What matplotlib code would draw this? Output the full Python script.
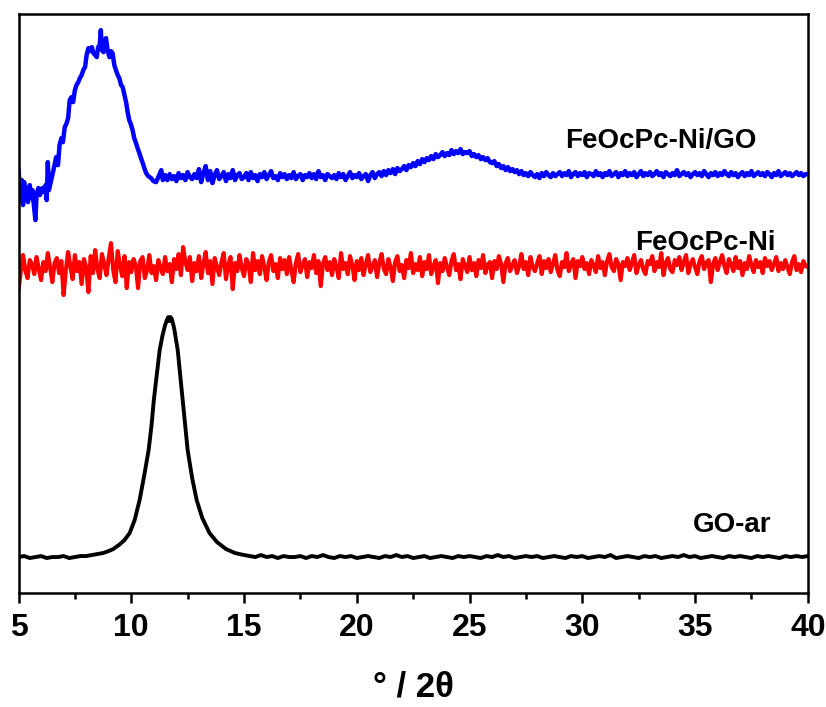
#!/usr/bin/env python

# XRD patterns of GO-ar, FeOcPc-Ni and FeOcPc-Ni/GO, stacked with offsets
# intensities are in arbitrary units (offset already included)

import matplotlib
matplotlib.use('Agg')
import matplotlib.pyplot as plt
import matplotlib.ticker as ticker
import numpy as np

plt.rcParams['font.family'] = ['Liberation Sans', 'DejaVu Sans']
plt.rcParams['font.weight'] = 'bold'

# GO-ar (black)
go_left_x = np.arange(5.0, 8.01, 0.25)
go_left_y = [43, 44, 42, 43, 44, 42, 43, 43, 44, 42, 43, 44, 44]
go_peak_x = [8.25, 8.5, 8.75, 9.0, 9.2, 9.45, 9.7, 9.93, 10.15, 10.37, 10.57, 10.77,
             10.9, 11.0, 11.13, 11.26, 11.38, 11.5, 11.58, 11.64, 11.69, 11.74, 11.8,
             11.9, 12.06, 12.17, 12.28, 12.39, 12.5, 12.7, 12.9, 13.15, 13.47, 13.8,
             14.2, 14.6, 15.0]
go_peak_y = [45, 46, 47, 49, 51, 55, 60, 67, 80, 100, 124, 150,
             175, 200, 225, 250, 264, 275, 280, 283, 279, 283, 281,
             272, 250, 225, 200, 175, 150, 122, 100, 82, 67, 58,
             51, 47, 45]
go_right_x = np.arange(15.25, 40.01, 0.25)
go_right_y = [44, 43, 45, 43, 44, 42, 44, 43, 43, 44,
              42, 44, 43, 45, 43, 42, 44, 43, 44, 42,
              43, 44, 43, 42, 44, 43, 45, 43, 44, 42,
              43, 44, 42, 43, 44, 43, 42, 44, 43, 44,
              43, 42, 44, 43, 45, 43, 44, 42, 43, 44,
              43, 44, 42, 43, 44, 43, 42, 44, 43, 44,
              42, 43, 44, 43, 45, 42, 43, 44, 43, 42,
              44, 43, 44, 42, 43, 44, 43, 45, 43, 44,
              42, 43, 44, 43, 42, 44, 43, 44, 43, 42,
              44, 43, 44, 43, 42, 44, 43, 44, 43, 44]

# FeOcPc-Ni (red)
ni_x = np.arange(5.0, 40.01, 0.1)
ni_y = [310, 328, 345, 330, 322, 340, 336, 326, 343, 331,
        320, 338, 329, 347, 333, 318, 337, 342, 327, 339,
        305, 330, 348, 334, 321, 345, 329, 338, 316, 341,
        333, 308, 344, 327, 350, 331, 322, 346, 336, 325,
        342, 357, 330, 318, 349, 335, 324, 344, 312, 338,
        328, 341, 335, 312, 339, 343, 322, 330, 345, 327,
        334, 320, 340, 332, 326, 343, 329, 336, 318, 341,
        331, 346, 325, 353, 338, 330, 343, 319, 337, 329,
        344, 322, 336, 348, 327, 339, 316, 342, 333, 325,
        338, 347, 321, 335, 343, 311, 337, 329, 345, 332,
        324, 341, 336, 318, 347, 330, 339, 326, 344, 333,
        320, 338, 345, 329, 336, 322, 342, 331, 340, 326,
        343, 330, 318, 337, 346, 328, 335, 341, 323, 338,
        332, 345, 327, 339, 314, 336, 343, 330, 338, 325,
        341, 333, 322, 347, 331, 337, 326, 344, 335, 320,
        339, 330, 342, 325, 336, 345, 328, 334, 340, 323,
        337, 346, 331, 326, 341, 333, 319, 338, 344, 329,
        335, 322, 340, 332, 347, 327, 336, 330, 343, 324,
        338, 331, 345, 326, 334, 340, 317, 337, 329, 342,
        333, 325, 339, 346, 330, 336, 321, 341, 334, 328,
        343, 330, 337, 324, 340, 332, 345, 327, 335, 338,
        322, 339, 331, 344, 336, 318, 337, 342, 329, 335,
        340, 327, 334, 346, 331, 338, 325, 343, 333, 329,
        337, 344, 326, 339, 332, 341, 328, 336, 345, 330,
        324, 338, 333, 347, 329, 336, 341, 322, 339, 334,
        343, 331, 337, 326, 340, 335, 328, 344, 332, 338,
        325, 339, 346, 333, 329, 341, 336, 320, 338, 334,
        342, 330, 337, 345, 327, 335, 340, 331, 326, 339,
        336, 344, 329, 338, 333, 347, 325, 337, 342, 331,
        328, 340, 335, 343, 330, 338, 345, 327, 336, 341,
        333, 326, 339, 344, 331, 337, 340, 318, 336, 342,
        330, 338, 345, 334, 327, 341, 336, 329, 343, 332,
        339, 325, 337, 331, 344, 335, 328, 340, 333, 338,
        327, 342, 334, 339, 330, 336, 343, 329, 337, 331,
        340, 333, 326, 338, 344, 330, 336, 328, 339, 334,
        333]

# FeOcPc-Ni/GO (blue)
gc_peak_x = [5.0, 5.05, 5.1, 5.15, 5.2, 5.25, 5.3, 5.36, 5.42, 5.5, 5.56, 5.62, 5.68,
             5.75, 5.8, 5.88, 5.95, 6.05, 6.12, 6.2, 6.25, 6.3, 6.35, 6.45, 6.55,
             6.67, 6.75, 6.82, 6.9, 6.97, 7.05, 7.12, 7.2, 7.27, 7.35, 7.42, 7.5,
             7.57, 7.65, 7.72, 7.8, 7.87, 7.95, 8.02, 8.1, 8.17, 8.25, 8.32, 8.4,
             8.47, 8.53, 8.6, 8.65, 8.7, 8.77, 8.83, 8.88, 8.95, 9.03, 9.1, 9.17,
             9.25, 9.32, 9.4, 9.47, 9.55, 9.62, 9.7, 9.77, 9.84, 9.91, 9.98, 10.06,
             10.13, 10.21, 10.28, 10.36, 10.43, 10.51, 10.58, 10.66, 10.75, 10.88,
             10.98, 11.1, 11.2, 11.33, 11.4]
gc_peak_y = [430, 415, 400, 420, 395, 418, 405, 412, 398, 415, 402, 410, 395,
             380, 405, 412, 405, 412, 408, 415, 400, 438, 410, 420, 430,
             443, 435, 455, 462, 458, 473, 476, 482, 500, 503, 498, 510,
             515, 518, 522, 525, 530, 533, 545, 552, 549, 553, 547, 545,
             543, 553, 555, 570, 550, 548, 560, 562, 550, 543, 549, 547,
             535, 530, 525, 522, 515, 513, 505, 498, 488, 480, 476, 470,
             462, 457, 452, 447, 442, 437, 432, 427, 424, 422,
             419, 418, 423, 430, 420]
gc_rest_x = np.arange(11.5, 40.01, 0.1)
gc_rest_y = [425, 420, 426, 421, 424,
             419, 427, 422, 425, 420, 428, 423, 421, 426, 422,
             431, 418, 427, 434, 420, 429, 417, 425, 430, 421,
             424, 428, 419, 426, 422, 430, 420, 425, 427, 421,
             423, 427, 420, 428, 422, 425, 419, 426, 423, 428,
             421, 425, 429, 422, 424, 420, 427, 423, 426, 421,
             425, 422, 428, 421, 424, 426, 420, 425, 423, 427,
             422, 426, 421, 429, 423, 425, 420, 426, 424, 422,
             425, 421, 427, 423, 426, 420, 424, 428, 422, 425,
             423, 427, 421, 424, 426, 419, 425, 428, 422, 426,
             428, 424, 429, 425, 430, 427, 431, 426, 432, 429,
             431, 434, 430, 435, 433, 437, 434, 439, 436, 441,
             438, 442, 440, 444, 441, 446, 443, 445, 448, 444,
             447, 445, 450, 446, 449, 447, 451, 446, 448, 447,
             449, 444, 446, 443, 445, 441, 443, 440, 442, 438,
             437, 439, 434, 436, 432, 434, 430, 433, 429, 431,
             428, 430, 426, 429, 425, 427, 424, 428, 425, 423,
             426, 422, 427, 424, 428, 425, 423, 427, 424, 426,
             428, 424, 427, 425, 429, 423, 426, 428, 424, 427,
             425, 428, 423, 427, 426, 424, 429, 425, 427, 423,
             427, 425, 429, 424, 426, 428, 423, 427, 425, 429,
             424, 427, 425, 428, 423, 426, 429, 424, 427, 425,
             428, 424, 426, 429, 425, 427, 423, 428, 426, 424,
             427, 425, 430, 424, 426, 428, 425, 427, 423, 426,
             428, 425, 427, 424, 429, 426, 423, 427, 425, 428,
             424, 427, 425, 429, 426, 424, 428, 425, 427, 423,
             426, 428, 424, 427, 425, 429, 424, 426, 428, 425,
             427, 424, 428, 426, 423, 427, 425, 429, 424, 426,
             428, 425, 427, 424, 426, 428, 425, 427, 424, 426,
             426]

labels = ['FeOcPc-Ni/GO', 'FeOcPc-Ni', 'GO-ar']
xticks = [5, 10, 15, 20, 25, 30, 35, 40]

go_x = np.concatenate([go_left_x, go_peak_x, go_right_x])
go_y = np.concatenate([go_left_y, go_peak_y, go_right_y])
gc_x = np.concatenate([gc_peak_x, gc_rest_x])
gc_y = np.concatenate([gc_peak_y, gc_rest_y])

fig = plt.figure(figsize=(8.26, 7.07), dpi=100)
ax = fig.add_axes([0.0224, 0.1612, 0.9556, 0.8188])

ax.plot(go_x, go_y, color='black', linewidth=2.8)
ax.plot(ni_x, ni_y, color='red', linewidth=3.0)
ax.plot(gc_x, gc_y, color='blue', linewidth=3.2)

# curve names
ax.text(37.72, 452, labels[0], ha='right', va='baseline', fontsize=20, fontweight='bold')
ax.text(38.56, 350, labels[1], ha='right', va='baseline', fontsize=20, fontweight='bold')
ax.text(38.38, 68, labels[2], ha='right', va='baseline', fontsize=20, fontweight='bold')

ax.set_xlim(5, 40)
ax.set_ylim(7, 586)
ax.set_yticks([])
ax.set_xticks(xticks)
ax.xaxis.set_minor_locator(ticker.MultipleLocator(2.5))
ax.tick_params(axis='x', which='major', direction='out', length=7.2, width=1.8,
               labelsize=23, pad=7)
ax.tick_params(axis='x', which='minor', direction='out', length=4.5, width=1.8)
for lab in ax.get_xticklabels():
    lab.set_fontweight('bold')
for sp in ax.spines.values():
    sp.set_linewidth(1.8)

ax.set_xlabel('° / 2θ', fontsize=25, fontweight='bold', labelpad=20)

plt.savefig('out.png', dpi=100)
